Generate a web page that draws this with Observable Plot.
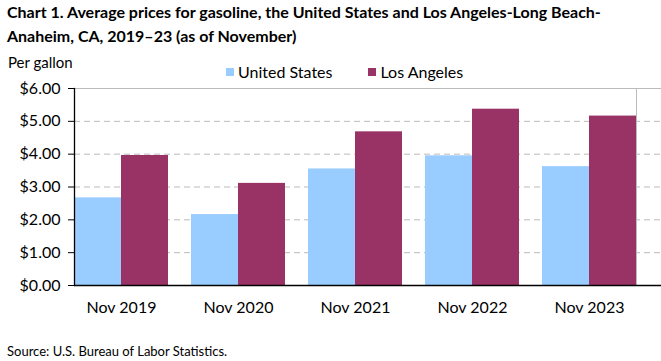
<!DOCTYPE html>
<html><head><meta charset="utf-8">
<script src="https://cdn.jsdelivr.net/npm/d3@7"></script>
<script src="https://cdn.jsdelivr.net/npm/@observablehq/plot@0.6"></script>
<style>
body{margin:0;background:#fff;font-family:Lato,"Open Sans",sans-serif;color:#000}
#wrap{position:relative;width:661px;height:361px;overflow:hidden;background:#fff}
#title{position:absolute;z-index:2;left:7px;top:0px;font-weight:bold;font-size:16px;line-height:24px;white-space:nowrap}
#ylab{position:absolute;z-index:2;left:8px;top:52px;font-size:15px;line-height:20px}
#legend{position:absolute;z-index:2;left:226px;top:62px;font-size:16px;line-height:20px;display:flex;gap:0}
#legend .item{display:flex;align-items:center;margin-right:36px}
#legend .sw{width:8px;height:8px;margin-right:4px}
#chart{position:absolute;z-index:1;left:0;top:50px}
#source{position:absolute;z-index:2;left:7px;top:342px;font-size:13px;line-height:18px}
</style></head><body>
<div id="wrap">
  <div id="chart"></div>
  <div id="title">Chart 1. Average prices for gasoline, the United States and Los Angeles-Long Beach-<br>Anaheim, CA, 2019–23 (as of November)</div>
  <div id="ylab">Per gallon</div>
  <div id="legend"></div>
  <div id="source">Source: U.S. Bureau of Labor Statistics.</div>
</div>
<script>
const years = ["Nov 2019", "Nov 2020", "Nov 2021", "Nov 2022", "Nov 2023"];
const usPrices = [2.67, 2.16, 3.55, 3.95, 3.62];
const laPrices = [3.96, 3.11, 4.68, 5.37, 5.16];
const seriesNames = ["United States", "Los Angeles"];
const seriesColors = ["#99ccff", "#993366"];
const yTicks = [0, 1, 2, 3, 4, 5, 6];
const gridTicks = [1, 2, 3, 4, 5];

const rows = [];
years.forEach((y, i) => {
  rows.push({year: y, series: seriesNames[0], value: usPrices[i]});
  rows.push({year: y, series: seriesNames[1], value: laPrices[i]});
});

const legend = document.getElementById("legend");
seriesNames.forEach((s, i) => {
  const it = document.createElement("div");
  it.className = "item";
  it.innerHTML = `<span class="sw" style="background:${seriesColors[i]}"></span><span>${s}</span>`;
  legend.appendChild(it);
});

const W = 661, ML = 60, MR = 12;
const plotW = W - ML - MR;
const noText = () => "";

const chart = Plot.plot({
  width: W,
  height: 290,
  marginLeft: ML,
  marginRight: MR,
  marginTop: 38,
  marginBottom: 55,
  style: {fontFamily: "Lato, 'Open Sans', sans-serif", fontSize: "16px", color: "#000", background: "transparent", overflow: "visible"},
  fx: {domain: years, paddingInner: 0.2, paddingOuter: 0.1, label: null, axis: null},
  x: {domain: seriesNames, padding: 0, axis: null},
  y: {domain: [0, 6], label: null, axis: null},
  color: {domain: seriesNames, range: seriesColors},
  marks: [
    Plot.axisY(gridTicks, {tickSize: -plotW, stroke: "#bbbbbb", strokeDasharray: "6,4", tickFormat: noText, label: null}),
    Plot.axisY([6], {tickSize: -plotW, stroke: "#bbbbbb", tickFormat: noText, label: null}),
    Plot.frame({anchor: "right", stroke: "#bbbbbb", facetAnchor: "right"}),
    Plot.barY(rows, {fx: "year", x: "series", y: "value", fill: "series"}),
    Plot.axisY(yTicks, {tickSize: 6, tickPadding: 8, stroke: "#000", tickFormat: d => "$" + d.toFixed(2), label: null, fontSize: 16}),
    Plot.axisY([0], {tickSize: -plotW, stroke: "#000", strokeWidth: 1.3, tickFormat: noText, label: null}),
    Plot.frame({anchor: "left", stroke: "#000", strokeWidth: 1.3, facetAnchor: "left"}),
    Plot.axisFx({anchor: "bottom", tickSize: 0, tickPadding: 16, label: null, fontSize: 16})
  ]
});
document.getElementById("chart").appendChild(chart);
</script>
</body></html>
